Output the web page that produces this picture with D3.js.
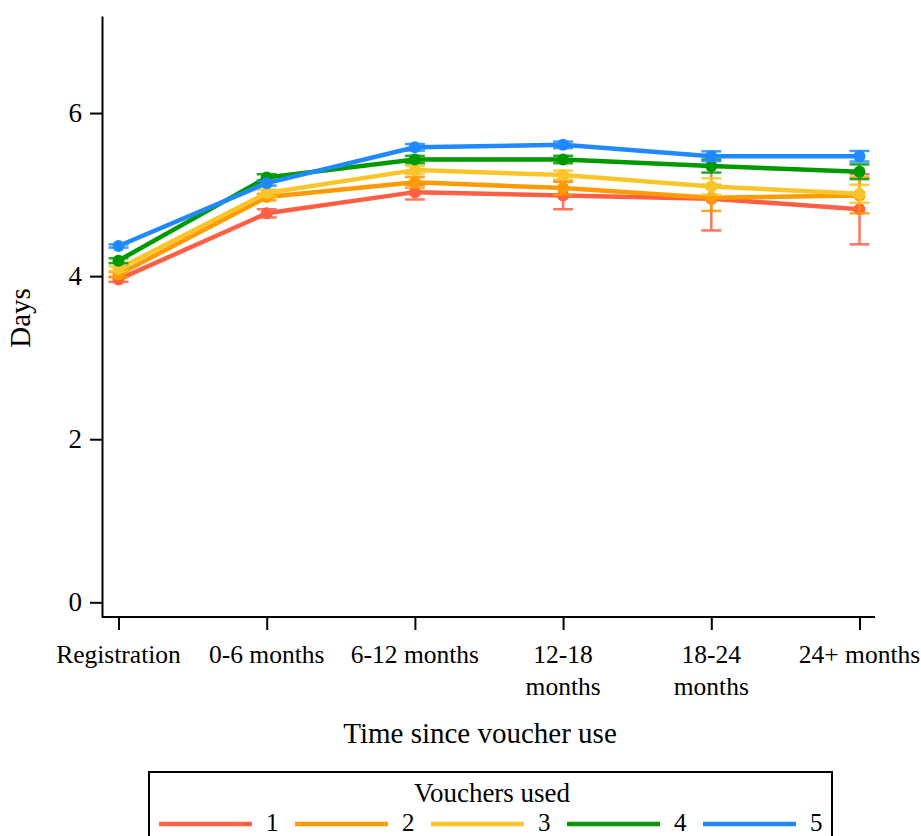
<!DOCTYPE html>
<html>
<head>
<meta charset="utf-8">
<script src="https://cdn.jsdelivr.net/npm/d3@7"></script>
<style>
  body { margin: 0; background: #fff; }
  text { font-family: "Liberation Serif", "Times New Roman", serif; fill: #000; }
</style>
</head>
<body>
<svg id="chart" width="921" height="836"></svg>
<script>
// periods since voucher use
var periods = ["Registration", "0-6 months", "6-12 months", "12-18 months", "18-24 months", "24+ months"];
var periodLabels = [["Registration"], ["0-6 months"], ["6-12 months"], ["12-18", "months"], ["18-24", "months"], ["24+ months"]];
var seriesNames = ["1", "2", "3", "4", "5"];
var seriesColors = ["#ff5f45", "#ff9a00", "#f8c62a", "#009a00", "#2189ff"];

// mean days, one array per number of vouchers used
var days1 = [3.96, 4.77, 5.03, 4.99, 4.95, 4.82];
var days2 = [4.02, 4.97, 5.15, 5.08, 4.96, 4.99];
var days3 = [4.09, 5.02, 5.30, 5.24, 5.10, 5.01];
var days4 = [4.19, 5.21, 5.43, 5.43, 5.35, 5.28];
var days5 = [4.37, 5.14, 5.58, 5.61, 5.47, 5.47];

// half width of the confidence interval
var ci1 = [0.03, 0.05, 0.09, 0.17, 0.39, 0.43];
var ci2 = [0.03, 0.04, 0.065, 0.08, 0.16, 0.22];
var ci3 = [0.03, 0.04, 0.05, 0.055, 0.10, 0.11];
var ci4 = [0.03, 0.04, 0.045, 0.045, 0.08, 0.09];
var ci5 = [0.02, 0.03, 0.04, 0.04, 0.06, 0.065];

var yTicks = [0, 2, 4, 6];

var allDays = [days1, days2, days3, days4, days5];
var allCi = [ci1, ci2, ci3, ci4, ci5];

var svg = d3.select("#chart");

var x = d3.scalePoint().domain(periods).range([118.5, 859.5]);
var y = d3.scaleLinear().domain([-0.18, 7.19]).range([617, 16]);

// y axis
var yAxis = svg.append("g").attr("transform", "translate(102,0)")
  .call(d3.axisLeft(y).tickValues(yTicks).tickSize(12).tickPadding(8).tickSizeOuter(0));
yAxis.select(".domain").attr("stroke-width", 2);
yAxis.selectAll(".tick line").attr("stroke-width", 2);
yAxis.selectAll(".tick text").style("font-size", "27px");

// x axis
var xAxis = svg.append("g").attr("transform", "translate(0,617)")
  .call(d3.axisBottom(x).tickSize(13).tickSizeOuter(0).tickFormat(""));
xAxis.select(".domain").attr("d", "M102,0H875").attr("stroke-width", 2);
xAxis.selectAll(".tick line").attr("stroke-width", 2);

var tickLabels = svg.append("g").selectAll("text")
  .data(periods)
  .enter().append("text")
  .attr("x", function(d) { return x(d); })
  .attr("y", 663)
  .attr("text-anchor", "middle")
  .style("font-size", "25.5px");
tickLabels.each(function(d, i) {
  var t = d3.select(this);
  periodLabels[i].forEach(function(line, k) {
    t.append("tspan").attr("x", x(d)).attr("dy", k == 0 ? 0 : 32).text(line);
  });
});

// axis titles
svg.append("text")
  .attr("x", 480).attr("y", 743)
  .attr("text-anchor", "middle")
  .style("font-size", "29px")
  .text("Time since voucher use");

svg.append("text")
  .attr("transform", "translate(30,318) rotate(-90)")
  .attr("text-anchor", "middle")
  .style("font-size", "29px")
  .text("Days");

// series
var line = d3.line()
  .x(function(d, i) { return x(periods[i]); })
  .y(function(d) { return y(d); });

allDays.forEach(function(vals, s) {
  var col = seriesColors[s];
  var g = svg.append("g");
  var ci = allCi[s];

  g.append("path")
    .datum(vals)
    .attr("d", line)
    .attr("fill", "none")
    .attr("stroke", col)
    .attr("stroke-width", 4.5)
    .attr("stroke-linejoin", "round");

  var eb = g.selectAll(".err").data(vals).enter().append("g")
    .attr("stroke", col).attr("stroke-width", 2.5).attr("opacity", 0.85);
  eb.append("line")
    .attr("x1", function(d, i) { return x(periods[i]); })
    .attr("x2", function(d, i) { return x(periods[i]); })
    .attr("y1", function(d, i) { return y(d + ci[i]); })
    .attr("y2", function(d, i) { return y(d - ci[i]); });
  eb.append("line")
    .attr("x1", function(d, i) { return x(periods[i]) - 10; })
    .attr("x2", function(d, i) { return x(periods[i]) + 10; })
    .attr("y1", function(d, i) { return y(d + ci[i]); })
    .attr("y2", function(d, i) { return y(d + ci[i]); });
  eb.append("line")
    .attr("x1", function(d, i) { return x(periods[i]) - 10; })
    .attr("x2", function(d, i) { return x(periods[i]) + 10; })
    .attr("y1", function(d, i) { return y(d - ci[i]); })
    .attr("y2", function(d, i) { return y(d - ci[i]); });

  g.selectAll("circle").data(vals).enter().append("circle")
    .attr("cx", function(d, i) { return x(periods[i]); })
    .attr("cy", function(d) { return y(d); })
    .attr("r", 6)
    .attr("fill", col);
});

// legend
var legend = svg.append("g");
legend.append("rect")
  .attr("x", 149).attr("y", 772)
  .attr("width", 683).attr("height", 80)
  .attr("fill", "#fff").attr("stroke", "#000").attr("stroke-width", 2);
legend.append("text")
  .attr("x", 492).attr("y", 802)
  .attr("text-anchor", "middle")
  .style("font-size", "27px")
  .text("Vouchers used");

var items = legend.selectAll(".item").data(seriesNames).enter().append("g")
  .attr("transform", function(d, i) { return "translate(" + (159 + i * 136) + ",824)"; });
items.append("line")
  .attr("x1", 0).attr("x2", 93)
  .attr("stroke", function(d, i) { return seriesColors[i]; })
  .attr("stroke-width", 4.5);
items.append("text")
  .attr("x", 107).attr("y", 7)
  .style("font-size", "25px")
  .text(function(d) { return d; });
</script>
</body>
</html>
